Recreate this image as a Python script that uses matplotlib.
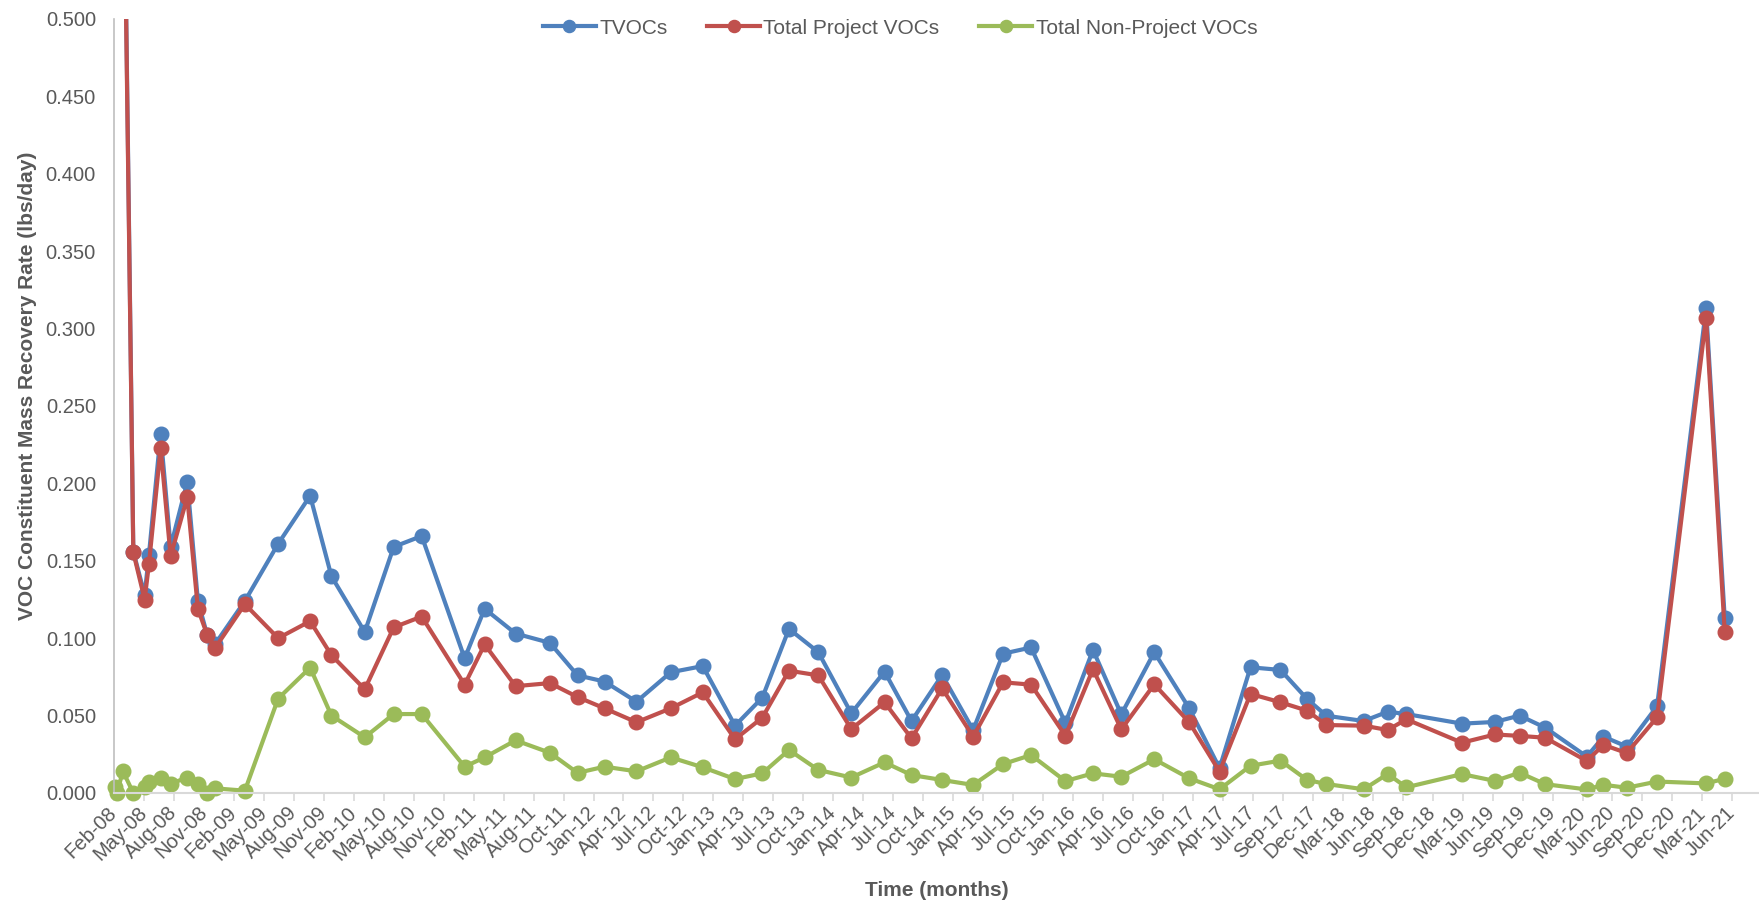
import numpy as np
import pandas as pd
import matplotlib
matplotlib.use("Agg")
import matplotlib.pyplot as plt
import matplotlib.dates as mdates
from matplotlib.ticker import MultipleLocator, FormatStrFormatter

# sampling dates
dates = [
    "2008-02-21", "2008-02-27", "2008-03-17", "2008-04-17", "2008-05-21", "2008-06-03",
    "2008-07-08", "2008-08-07", "2008-09-26", "2008-10-28", "2008-11-25", "2008-12-18",
    "2009-03-18", "2009-06-26", "2009-09-30", "2009-12-03",
    "2010-03-13", "2010-06-08", "2010-08-31",
    "2011-01-07", "2011-03-08", "2011-06-09", "2011-09-20", "2011-12-12",
    "2012-03-02", "2012-06-06", "2012-09-17", "2012-12-22",
    "2013-03-29", "2013-06-19", "2013-09-07", "2013-12-04",
    "2014-03-13", "2014-06-21", "2014-09-10", "2014-12-11",
    "2015-03-14", "2015-06-12", "2015-09-04", "2015-12-16",
    "2016-03-08", "2016-06-01", "2016-09-08", "2016-12-22",
    "2017-03-23", "2017-06-24", "2017-09-22", "2017-12-11",
    "2018-02-07", "2018-05-30", "2018-08-10", "2018-10-05",
    "2019-03-21", "2019-06-28", "2019-09-10", "2019-11-26",
    "2020-03-30", "2020-05-19", "2020-07-28", "2020-10-27",
    "2021-03-23", "2021-05-18",
]

tvocs = [
    1.02, 0.92, 0.66, 0.156, 0.128, 0.154, 0.232, 0.159, 0.201, 0.124, 0.102, 0.096,
    0.124, 0.161, 0.192, 0.140,
    0.104, 0.159, 0.166,
    0.087, 0.119, 0.103, 0.097, 0.076,
    0.072, 0.059, 0.078, 0.082,
    0.0435, 0.0616, 0.106, 0.091,
    0.0515, 0.0784, 0.0465, 0.0762,
    0.0407, 0.090, 0.094, 0.0452,
    0.0924, 0.0508, 0.0909, 0.0547,
    0.016, 0.0812, 0.0795, 0.0607,
    0.0499, 0.0465, 0.0525, 0.051,
    0.0448, 0.0459, 0.050, 0.0422,
    0.0235, 0.0364, 0.030, 0.0561,
    0.313, 0.113,
]

project = [
    1.00, 0.90, 0.65, 0.1555, 0.125, 0.148, 0.223, 0.153, 0.191, 0.119, 0.102, 0.0935,
    0.122, 0.100, 0.111, 0.089,
    0.067, 0.107, 0.114,
    0.070, 0.096, 0.069, 0.071, 0.062,
    0.0547, 0.0457, 0.0547, 0.065,
    0.0347, 0.0487, 0.079, 0.076,
    0.0413, 0.0586, 0.0353, 0.0676,
    0.0364, 0.0715, 0.070, 0.037,
    0.080, 0.0411, 0.0702, 0.0457,
    0.0138, 0.064, 0.0586, 0.0532,
    0.0439, 0.0435, 0.0407, 0.0476,
    0.0325, 0.0378, 0.0369, 0.0357,
    0.0207, 0.0311, 0.0258, 0.0489,
    0.307, 0.1043,
]

non_project = [
    0.004, 0.000, 0.014, 0.000, 0.004, 0.007, 0.0095, 0.006, 0.010, 0.006, 0.000, 0.003,
    0.0015, 0.061, 0.081, 0.050,
    0.036, 0.051, 0.051,
    0.017, 0.023, 0.034, 0.026, 0.013,
    0.017, 0.014, 0.023, 0.0166,
    0.009, 0.0127, 0.0278, 0.0149,
    0.010, 0.0198, 0.0116, 0.0084,
    0.0052, 0.0187, 0.0245, 0.0077,
    0.0127, 0.0105, 0.0218, 0.0095,
    0.0024, 0.0176, 0.0209, 0.0084,
    0.0058, 0.0024, 0.0123, 0.0037,
    0.0122, 0.0078, 0.0131, 0.0057,
    0.0023, 0.0053, 0.0034, 0.0074,
    0.0062, 0.0092,
]

series_names = ["TVOCs", "Total Project VOCs", "Total Non-Project VOCs"]
colors = ["#4F81BD", "#C0504D", "#9BBB59"]

x = pd.to_datetime(dates)
txt = "#595959"
plt.rcParams["font.family"] = ["Liberation Sans", "DejaVu Sans"]

fig = plt.figure(figsize=(17.59, 9.02), dpi=100)
ax = fig.add_axes([114 / 1759, 1 - 793 / 902, 1 - 114 / 1759, (793 - 19) / 902])

for vals, name, c in zip([tvocs, project, non_project], series_names, colors):
    ax.plot(x, vals, color=c, lw=3, marker="o", ms=10.5, label=name,
            clip_on=(name != "Total Non-Project VOCs"))

# axis ticks every 90 days from the first tick, like the original date axis
ticks = pd.date_range("2008-02-19", periods=55, freq="90D")
ax.set_xticks(ticks)
ax.xaxis.set_major_formatter(mdates.DateFormatter("%b-%y"))
ax.set_xlim(pd.Timestamp("2008-02-19"), pd.Timestamp("2021-08-29"))
ax.set_ylim(0, 0.5)
ax.yaxis.set_major_locator(MultipleLocator(0.05))
ax.yaxis.set_major_formatter(FormatStrFormatter("%.3f"))

for lab in ax.get_xticklabels():
    lab.set_rotation(45)
    lab.set_ha("right")
    lab.set_va("center")
    lab.set_rotation_mode("anchor")

ax.tick_params(axis="x", colors="#D9D9D9", labelcolor=txt, labelsize=14.5,
               length=6, width=1.2, pad=6)
ax.tick_params(axis="y", length=0, labelcolor=txt, labelsize=14.5, pad=13)

for s in ["top", "right"]:
    ax.spines[s].set_visible(False)
ax.spines["left"].set_color("#BFBFBF")
ax.spines["left"].set_linewidth(1.2)
ax.spines["bottom"].set_color("#D9D9D9")
ax.spines["bottom"].set_linewidth(1.5)

ax.set_xlabel("Time (months)", fontsize=15, fontweight="bold", color=txt)
ax.set_ylabel("VOC Constituent Mass Recovery Rate (lbs/day)", fontsize=15,
              fontweight="bold", color=txt)
ax.xaxis.set_label_coords(0.5, -0.1137)
ax.yaxis.set_label_coords(-0.047, 0.526)

leg = fig.legend(loc="center", bbox_to_anchor=(900 / 1759, 1 - 28 / 902), ncol=3,
                 frameon=False, markerscale=0.83, handlelength=2.55, handletextpad=0.16,
                 columnspacing=1.9, fontsize=15)
for t in leg.get_texts():
    t.set_color(txt)

fig.savefig("out.png", dpi=100)
